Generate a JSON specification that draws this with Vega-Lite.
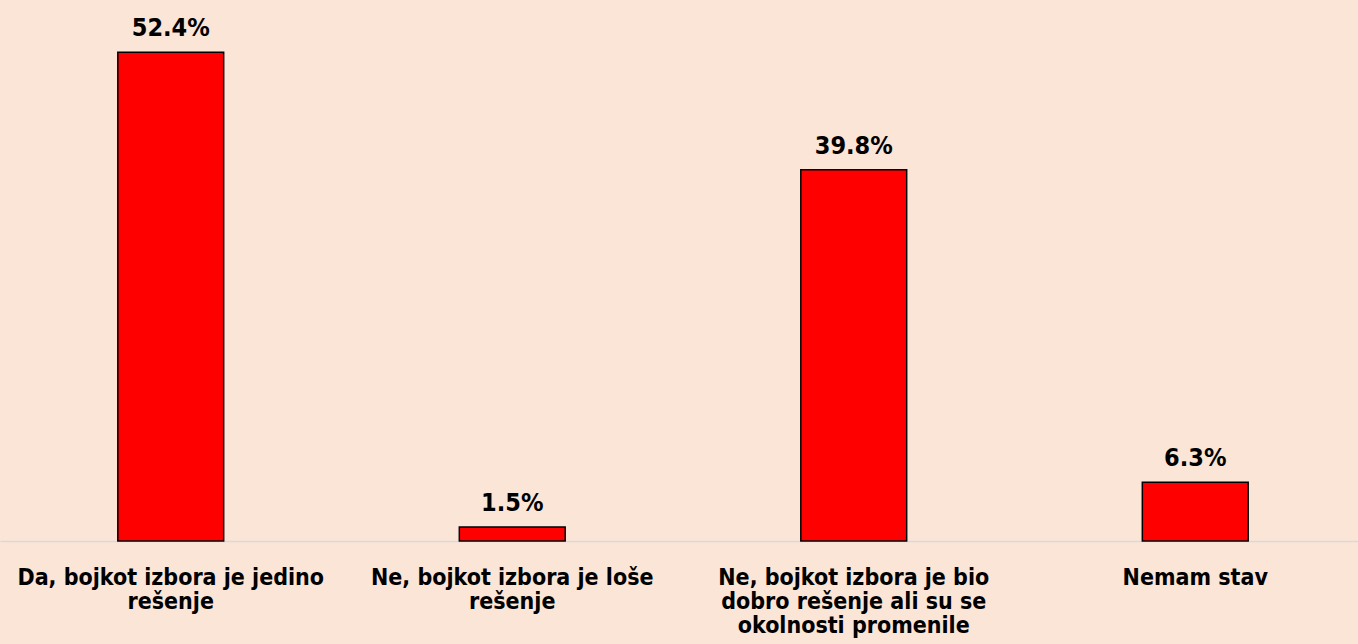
{
  "$schema": "https://vega.github.io/schema/vega-lite/v6.json",
  "width": 1366,
  "height": 541,
  "autosize": {"type": "none"},
  "padding": {"left": 0, "top": 0, "right": 0, "bottom": 103},
  "background": "#FBE5D6",
  "config": {"view": {"stroke": null}, "font": "DejaVu Sans Condensed"},
  "data": {"values": [
    {"answer": "Da, bojkot izbora je jedino rešenje", "share": 0.524},
    {"answer": "Ne, bojkot izbora je loše rešenje", "share": 0.015},
    {"answer": "Ne, bojkot izbora je bio dobro rešenje ali su se okolnosti promenile", "share": 0.398},
    {"answer": "Nemam stav", "share": 0.063}
  ]},
  "encoding": {
    "x": {
      "field": "answer", "type": "nominal", "sort": null,
      "scale": {"paddingInner": 0.69, "paddingOuter": 0.345},
      "axis": {
        "title": null, "labelAngle": 0, "ticks": false, "domainColor": "#D9D9D9", "domainWidth": 1.5,
        "labelFont": "DejaVu Sans Condensed",
        "labelFontSize": 23, "labelFontWeight": "bold", "labelColor": "#000000", "labelPadding": 25,
        "labelLineHeight": 24, "labelLimit": 400,
        "labelExpr": "datum.value == 'Da, bojkot izbora je jedino rešenje' ? ['Da, bojkot izbora je jedino', 'rešenje'] : datum.value == 'Ne, bojkot izbora je loše rešenje' ? ['Ne, bojkot izbora je loše', 'rešenje'] : datum.value == 'Ne, bojkot izbora je bio dobro rešenje ali su se okolnosti promenile' ? ['Ne, bojkot izbora je bio', 'dobro rešenje ali su se', 'okolnosti promenile'] : datum.value"
      }
    },
    "y": {"field": "share", "type": "quantitative", "scale": {"domain": [0, 0.58], "nice": false}, "axis": null}
  },
  "layer": [
    {"mark": {"type": "bar", "color": "#FF0000", "stroke": "#000000", "strokeWidth": 1.5}},
    {"mark": {"type": "text", "dy": -11, "fontSize": 25, "font": "DejaVu Sans Condensed", "fontWeight": "bold", "color": "#000000", "baseline": "bottom"},
     "encoding": {"text": {"field": "share", "type": "quantitative", "format": ".1%"}}}
  ]
}
